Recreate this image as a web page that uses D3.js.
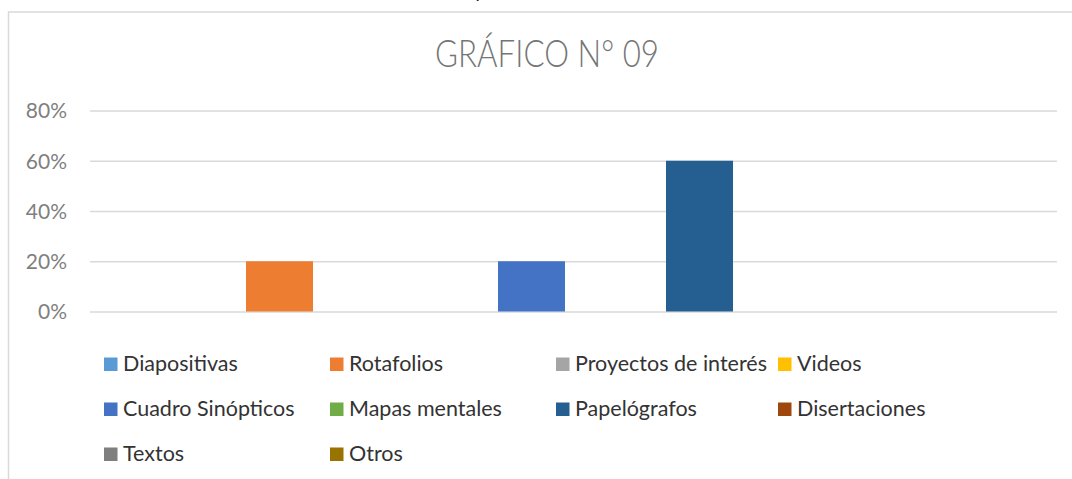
<!DOCTYPE html>
<html>
<head>
<meta charset="utf-8">
<script src="https://cdn.jsdelivr.net/npm/d3@7"></script>
<style>
  body { margin: 0; background: #fff; }
  svg { display: block; }
</style>
</head>
<body>
<div id="chart"></div>
<script>
// data
const series = ['Diapositivas', 'Rotafolios', 'Proyectos de interés', 'Videos', 'Cuadro Sinópticos',
    'Mapas mentales', 'Papelógrafos', 'Disertaciones', 'Textos', 'Otros']
const values = [0, 0.20, 0, 0, 0.20, 0, 0.60, 0, 0, 0]
const colors = ['#5B9BD5', '#ED7D31', '#A5A5A5', '#FFC000', '#4472C4',
    '#70AD47', '#255E91', '#9E480E', '#7F7F7F', '#997300']
const yTicks = [0, 0.2, 0.4, 0.6, 0.8]
const title = 'GRÁFICO N° 09'

const svgWidth = 1072
const svgHeight = 479

const svg = d3.select('#chart')
    .append('svg')
    .attr('width', svgWidth)
    .attr('height', svgHeight)

// chart frame
svg.append('rect')
    .attr('x', 8.5)
    .attr('y', 12)
    .attr('width', 1080)
    .attr('height', 500)
    .attr('fill', 'none')
    .attr('stroke', '#d9d9d9')
    .attr('stroke-width', 1.5)

// tail of text above the chart (cut off in the original too)
svg.append('text')
    .attr('x', 474)
    .attr('y', -2)
    .attr('font-family', 'Lato')
    .attr('font-size', 20)
    .attr('fill', '#222')
    .text('y')

// title
svg.append('text')
    .attr('x', 547)
    .attr('y', 67)
    .attr('text-anchor', 'middle')
    .attr('font-family', 'Lato')
    .attr('font-weight', 300)
    .attr('font-size', 37)
    .attr('fill', '#757575')
    .attr('textLength', 224)
    .attr('lengthAdjust', 'spacingAndGlyphs')
    .text(title)

////////////////////////////////////
//////////////scales////////////////
////////////////////////////////////

const plot = { left: 90, right: 1057, top: 110.5, bottom: 311.5 }

const x = d3.scaleBand()
    .domain(series)
    .range([plot.left, plot.right])
    .paddingInner(0.2024)
    .paddingOuter(0.857)

const y = d3.scaleLinear()
    .domain([0, 0.8])
    .range([plot.bottom, plot.top])

const color = d3.scaleOrdinal()
    .domain(series)
    .range(colors)

// gridlines
const yAxis = d3.axisLeft(y)
    .tickValues(yTicks)
    .tickSize(-(plot.right - plot.left))
    .tickPadding(23)
    .tickFormat(d3.format('.0%'))

const gy = svg.append('g')
    .attr('transform', `translate(${plot.left},0)`)
    .call(yAxis)

gy.select('.domain').remove()
gy.selectAll('.tick line')
    .attr('stroke', '#d9d9d9')
    .attr('stroke-width', 1.5)
gy.selectAll('.tick text')
    .attr('font-family', 'Lato')
    .attr('font-size', 21)
    .attr('fill', '#7f7f7f')
    .attr('dy', '0.35em')

// bars
svg.append('g')
    .selectAll('rect')
    .data(series.map((s, i) => ({ name: s, value: values[i] })))
    .join('rect')
    .attr('x', d => x(d.name))
    .attr('width', x.bandwidth())
    .attr('y', d => y(d.value))
    .attr('height', d => y(0) - y(d.value))
    .attr('fill', d => color(d.name))

////////////////////////////////////
//////////////legend////////////////
////////////////////////////////////

const legendCols = [104, 330, 556, 778]
const legendRows = [357.5, 402.5, 447.5]

const item = svg.append('g')
    .selectAll('g')
    .data(series)
    .join('g')
    .attr('transform', (d, i) => `translate(${legendCols[i % 4]},${legendRows[Math.floor(i / 4)]})`)

item.append('rect')
    .attr('width', 13.5)
    .attr('height', 13.5)
    .attr('fill', d => color(d))

item.append('text')
    .attr('x', 19)
    .attr('y', 13.5)
    .attr('font-family', 'Lato')
    .attr('font-size', 21.5)
    .attr('fill', '#333')
    .text(d => d)
</script>
</body>
</html>
